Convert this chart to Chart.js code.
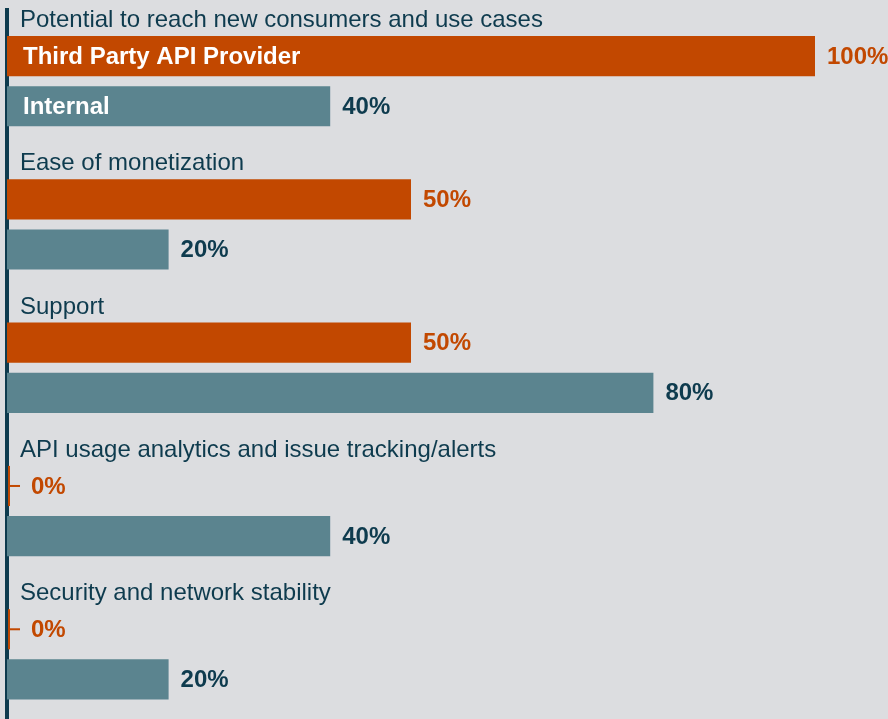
<!DOCTYPE html>
<html>
<head>
<meta charset="utf-8">
<script src="https://cdn.jsdelivr.net/npm/chart.js@4.4.1/dist/chart.umd.min.js"></script>
<style>
  html, body { margin: 0; padding: 0; background: #dcdde0; overflow: hidden; }
  #wrap { position: relative; width: 888px; height: 726px; }
</style>
</head>
<body>
<div id="wrap"><canvas id="apiChart"></canvas></div>
<script>
// chart data
const categories = [
    "Potential to reach new consumers and use cases",
    "Ease of monetization",
    "Support",
    "API usage analytics and issue tracking/alerts",
    "Security and network stability",
];
const seriesNames = ["Third Party API Provider", "Internal"];
const thirdPartyValues = [100, 50, 50, 0, 0];
const internalValues = [40, 20, 80, 40, 20];

const orange = "#c24800";
const teal = "#5b848f";
const darkText = "#0e3b4e";
const fontFamily = "'Liberation Sans', Arial, sans-serif";

// draws category titles, series names inside the first bars and value labels
const labelPlugin = {
    id: "labelPlugin",
    afterDatasetsDraw(chart) {
        const ctx = chart.ctx;
        const left = chart.chartArea.left;
        ctx.save();

        // category titles above each group
        const firstMeta = chart.getDatasetMeta(0);
        ctx.font = "24px " + fontFamily;
        ctx.fillStyle = darkText;
        ctx.textAlign = "left";
        ctx.textBaseline = "alphabetic";
        firstMeta.data.forEach((bar, i) => {
            const top = bar.y - bar.height / 2;
            ctx.fillText(categories[i], left + 13, top - 9);
        });

        chart.data.datasets.forEach((ds, di) => {
            const meta = chart.getDatasetMeta(di);
            const textColor = di === 0 ? orange : darkText;
            meta.data.forEach((bar, i) => {
                const value = ds.data[i];
                let labelX = bar.x + 12;
                if (value === 0) {
                    // zero marker: thin vertical line with a short tick
                    const top = bar.y - bar.height / 2;
                    ctx.fillStyle = ds.backgroundColor;
                    ctx.fillRect(left + 1, top, 2, bar.height);
                    ctx.fillRect(left + 1, bar.y - 1, 12, 2);
                    labelX = left + 13 + 11;
                }
                ctx.font = "bold 24px " + fontFamily;
                ctx.fillStyle = textColor;
                ctx.textBaseline = "middle";
                ctx.fillText(value + "%", labelX, bar.y + 1);

                // series name inside the first group's bars
                if (i === 0) {
                    ctx.fillStyle = "#ffffff";
                    ctx.fillText(ds.label, left + 16, bar.y + 1);
                }
            });
        });
        ctx.restore();
    },
};

const apiChart = new Chart(document.getElementById("apiChart"), {
    type: "bar",
    data: {
        labels: categories,
        datasets: [
            {
                label: seriesNames[0],
                data: thirdPartyValues,
                backgroundColor: orange,
            },
            {
                label: seriesNames[1],
                data: internalValues,
                backgroundColor: teal,
            },
        ],
    },
    options: {
        indexAxis: "y",
        responsive: true,
        maintainAspectRatio: false,
        animation: false,
        categoryPercentage: 0.7,
        barPercentage: 0.8,
        layout: { padding: { left: 7, right: 73, top: 9.5, bottom: 0 } },
        plugins: {
            legend: { display: false },
            tooltip: { enabled: false },
            title: { display: false },
        },
        scales: {
            x: { display: false, min: 0, max: 100 },
            y: {
                grid: { display: false, drawTicks: false },
                ticks: { display: false },
                border: { display: true, color: darkText, width: 4 },
            },
        },
    },
    plugins: [labelPlugin],
});
</script>
</body>
</html>
